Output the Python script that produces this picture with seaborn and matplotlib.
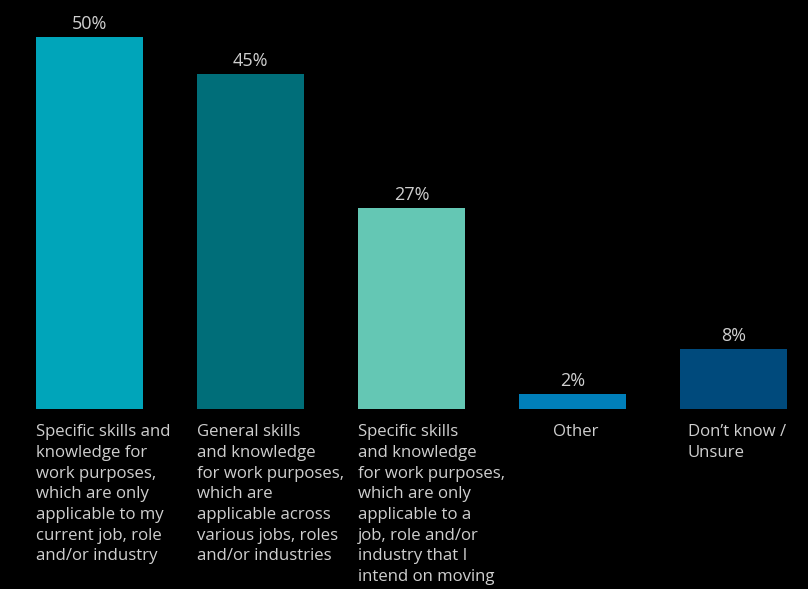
import matplotlib
matplotlib.use("Agg")
import matplotlib.pyplot as plt
import seaborn as sns
import pandas as pd

categories = [
    "Specific skills and\nknowledge for\nwork purposes,\nwhich are only\napplicable to my\ncurrent job, role\nand/or industry",
    "General skills\nand knowledge\nfor work purposes,\nwhich are\napplicable across\nvarious jobs, roles\nand/or industries",
    "Specific skills\nand knowledge\nfor work purposes,\nwhich are only\napplicable to a\njob, role and/or\nindustry that I\nintend on moving",
    "Other",
    "Don\u2019t know /\nUnsure",
]
values = [50, 45, 27, 2, 8]
value_labels = ["50%", "45%", "27%", "2%", "8%"]
colors = ["#00A5BA", "#006E79", "#64C7B4", "#007FBA", "#004A7C"]

BG = "#000000"
TXT = "#cfcfcf"

sns.set_theme(style="white")
plt.rcParams["font.family"] = ["Open Sans", "DejaVu Sans"]

W, H, DPI = 808, 589, 100
fig = plt.figure(figsize=(W / DPI, H / DPI), dpi=DPI, facecolor=BG)

base_px = 409          # baseline from top
px_per_unit = 7.44
ax = fig.add_axes([0, (H - base_px) / H, 1, base_px / H])
ax.set_facecolor(BG)

df = pd.DataFrame({"cat": range(len(values)), "val": values})
sns.barplot(data=df, x="cat", y="val", hue="cat", palette=colors,
            width=0.665, legend=False, ax=ax, saturation=1, linewidth=0)

ax.set_xlim(-89.5 / 161, (W - 89.5) / 161)
ax.set_ylim(0, base_px / px_per_unit)
ax.axis("off")

for i, (v, lab) in enumerate(zip(values, value_labels)):
    ax.annotate(lab, xy=(i, v), xytext=(0, 3), textcoords="offset points",
                ha="center", va="bottom", color=TXT, fontsize=13)

half = 0.665 / 2
for i, cat in enumerate(categories):
    if "\n" in cat and i < 3:
        x, ha = i - half, "left"
    else:
        x, ha = i + 0.02, "center"
    ax.annotate(cat, xy=(x, 0), xytext=(0, -11), textcoords="offset points",
                ha=ha, va="top", multialignment="left", color=TXT,
                fontsize=12.1, linespacing=1.39, annotation_clip=False)

fig.savefig("out.png", dpi=DPI, facecolor=BG)
